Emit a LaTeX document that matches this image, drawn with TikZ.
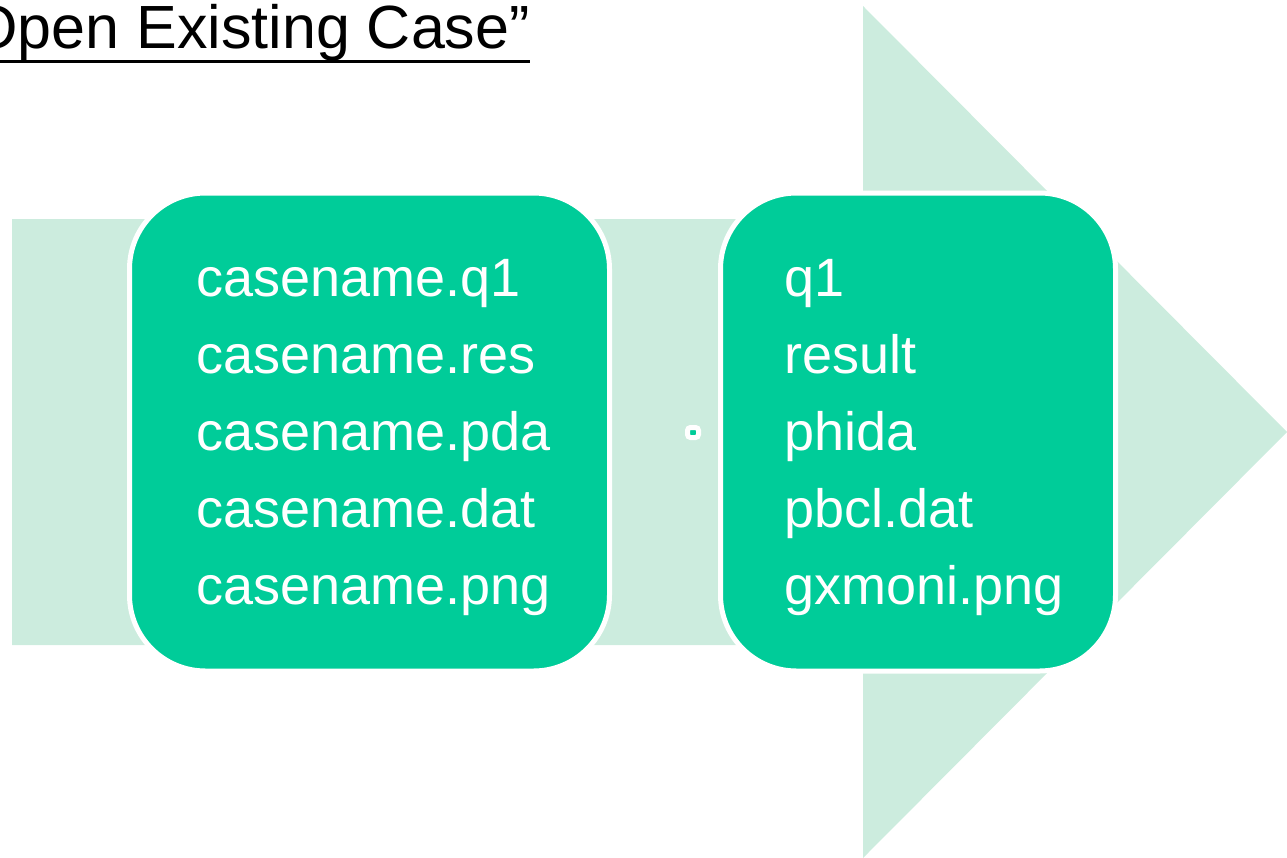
\documentclass[tikz,border=0pt]{standalone}
\usepackage{fontspec}
\setmainfont{Liberation Sans}
\definecolor{lightgreen}{RGB}{204,236,222}
\definecolor{boxgreen}{RGB}{0,204,153}
\begin{document}
\begin{tikzpicture}[x=1pt,y=-1pt,
  box/.style={draw=white,line width=5pt,fill=boxgreen,rounded corners=76pt,inner sep=0pt},
  item/.style={anchor=base west,inner sep=0pt,text=white,font=\fontsize{54}{64}\selectfont},
  title/.style={anchor=base east,inner sep=0pt,font=\fontsize{61}{72}\selectfont}]
\useasboundingbox (0,0) rectangle (1287,857);
% big arrow
\fill[lightgreen] (12,219) -- (863,219) -- (863,6) -- (1287,432) -- (863,858) -- (863,645) -- (12,645) -- cycle;
% title
\node[title] (title) at (530,48) {Open Existing Case”};
\draw[line width=3.5pt] (0,61.5) -- (title.base east |- 0,61.5);
% boxes
\node[box,minimum width=480pt,minimum height=478pt] (b1) at (369.5,432) {};
\node[box,minimum width=395pt,minimum height=478pt] (b2) at (918,432) {};
\node[draw=white,fill=boxgreen,line width=5pt,rounded corners=3pt,minimum width=11pt,minimum height=10pt,inner sep=0pt] (dot) at (693,432.5) {};
% texts
\node[item] (a1) at (196,296) {casename.q1};
\node[item] (a2) at (196,373) {casename.res};
\node[item] (a3) at (196,450) {casename.pda};
\node[item] (a4) at (196,527) {casename.dat};
\node[item] (a5) at (196,604) {casename.png};
\node[item] (c1) at (784,296) {q1};
\node[item] (c2) at (784,373) {result};
\node[item] (c3) at (784,450) {phida};
\node[item] (c4) at (784,527) {pbcl.dat};
\node[item] (c5) at (784,604) {gxmoni.png};
\end{tikzpicture}
\end{document}
